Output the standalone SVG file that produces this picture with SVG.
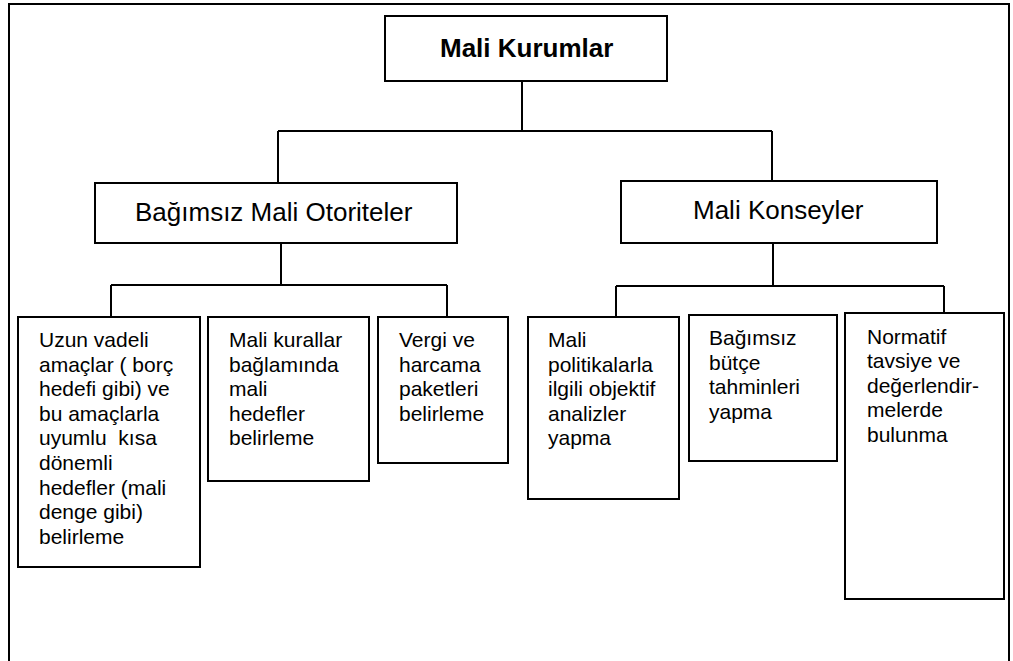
<svg xmlns="http://www.w3.org/2000/svg" width="1013" height="661" viewBox="0 0 1013 661">
<style>
.box{fill:#fff;stroke:#000;stroke-width:2}
.ln{fill:none;stroke:#000;stroke-width:2}
text{font-family:"Liberation Sans",Arial,sans-serif;fill:#000}
.t{font-size:21px}
.h{font-size:26px}
.b{font-size:26px;font-weight:bold}
</style>
<rect width="1013" height="661" fill="#fff"/>
<path class="ln" d="M9,661 V4 H1009 V661"/>
<g id="connectors">
<path class="ln" d="M522,81 V131 M278,131 H772 M278,131 V183 M772,131 V181"/>
<path class="ln" d="M281,243 V285 M111,285 H447 M111,285 V317 M447,285 V317"/>
<path class="ln" d="M773,243 V286 M616,286 H944 M616,286 V317 M944,286 V315"/>
</g>
<g id="root">
<rect class="box" x="385" y="16" width="282" height="65"/>
<text class="b" x="440" y="57">Mali Kurumlar</text>
</g>
<g id="bmo">
<rect class="box" x="95" y="183" width="362" height="60"/>
<text class="h" x="135" y="221">Bağımsız Mali Otoriteler</text>
</g>
<g id="mk">
<rect class="box" x="621" y="181" width="316" height="62"/>
<text class="h" x="693" y="219">Mali Konseyler</text>
</g>
<g id="n1">
<rect class="box" x="18" y="317" width="182" height="250"/>
<text class="t" x="39" y="347"><tspan x="39">Uzun vadeli</tspan><tspan x="39" dy="24.6">amaçlar ( borç</tspan><tspan x="39" dy="24.6">hedefi gibi) ve</tspan><tspan x="39" dy="24.6">bu amaçlarla</tspan><tspan x="39" dy="24.6" xml:space="preserve">uyumlu  kısa</tspan><tspan x="39" dy="24.6">dönemli</tspan><tspan x="39" dy="24.6">hedefler (mali</tspan><tspan x="39" dy="24.6">denge gibi)</tspan><tspan x="39" dy="24.6">belirleme</tspan></text>
</g>
<g id="n2">
<rect class="box" x="208" y="317" width="161" height="164"/>
<text class="t" x="229" y="347"><tspan x="229">Mali kurallar</tspan><tspan x="229" dy="24.6">bağlamında</tspan><tspan x="229" dy="24.6">mali</tspan><tspan x="229" dy="24.6">hedefler</tspan><tspan x="229" dy="24.6">belirleme</tspan></text>
</g>
<g id="n3">
<rect class="box" x="378" y="317" width="130" height="146"/>
<text class="t" x="399" y="347"><tspan x="399">Vergi ve</tspan><tspan x="399" dy="24.6">harcama</tspan><tspan x="399" dy="24.6">paketleri</tspan><tspan x="399" dy="24.6">belirleme</tspan></text>
</g>
<g id="n4">
<rect class="box" x="528" y="317" width="151" height="182"/>
<text class="t" x="548" y="347"><tspan x="548">Mali</tspan><tspan x="548" dy="24.6">politikalarla</tspan><tspan x="548" dy="24.6">ilgili objektif</tspan><tspan x="548" dy="24.6">analizler</tspan><tspan x="548" dy="24.6">yapma</tspan></text>
</g>
<g id="n5">
<rect class="box" x="689" y="315" width="148" height="146"/>
<text class="t" x="709" y="345"><tspan x="709">Bağımsız</tspan><tspan x="709" dy="24.6">bütçe</tspan><tspan x="709" dy="24.6">tahminleri</tspan><tspan x="709" dy="24.6">yapma</tspan></text>
</g>
<g id="n6">
<rect class="box" x="845" y="313" width="159" height="286"/>
<text class="t" x="867" y="344"><tspan x="867">Normatif</tspan><tspan x="867" dy="24.4">tavsiye ve</tspan><tspan x="867" dy="24.4">değerlendir-</tspan><tspan x="867" dy="24.4">melerde</tspan><tspan x="867" dy="24.4">bulunma</tspan></text>
</g>
</svg>
